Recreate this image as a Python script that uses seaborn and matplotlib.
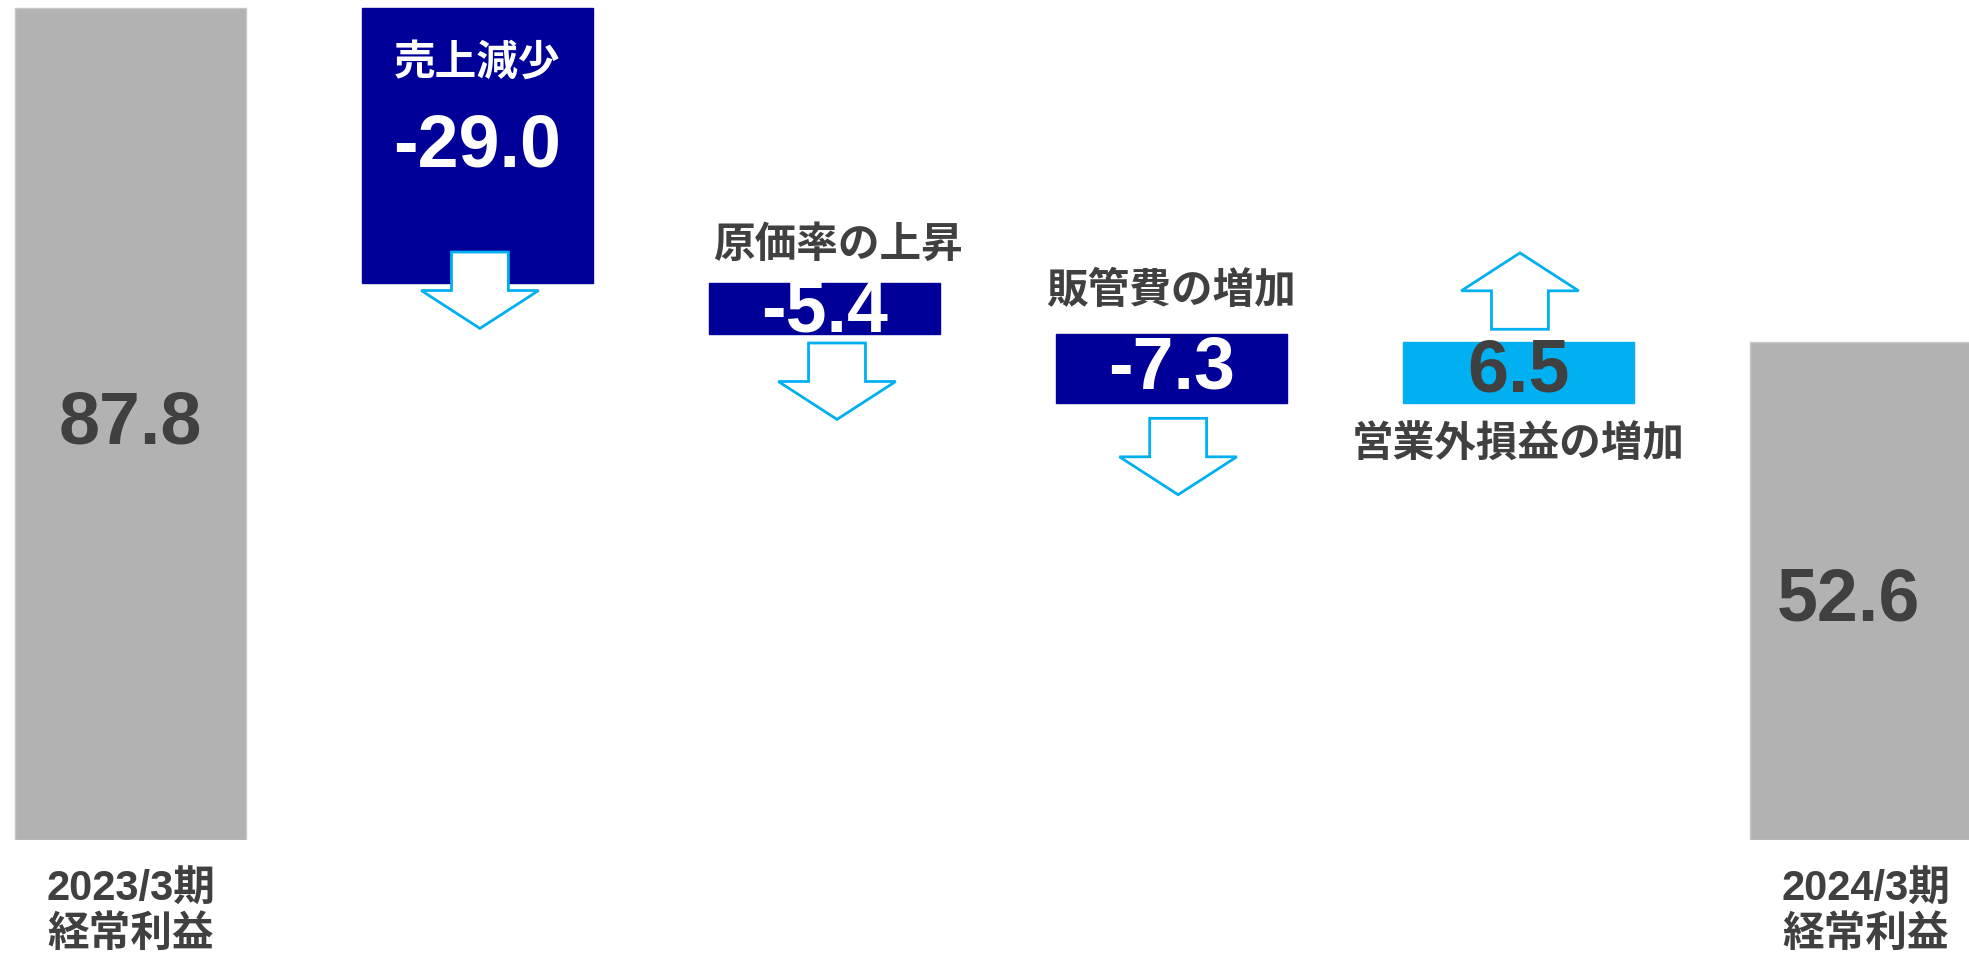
import numpy as np
import pandas as pd
import matplotlib
matplotlib.use("Agg")
import matplotlib.pyplot as plt
from matplotlib.patches import Polygon
import seaborn as sns

# ---- data -------------------------------------------------------------
items = ["2023/3期\n経常利益", "売上減少", "原価率の上昇", "販管費の増加",
         "営業外損益の増加", "2024/3期\n経常利益"]
start_value = 87.8
changes = [-29.0, -5.4, -7.3, 6.5]
end_value = 52.6
change_labels = ["売上減少", "原価率の上昇", "販管費の増加", "営業外損益の増加"]

# ---- waterfall geometry ------------------------------------------------
levels = np.concatenate([[start_value], start_value + np.cumsum(changes)])
heights = [start_value] + [abs(c) for c in changes] + [end_value]
bottoms = [0.0] + [min(levels[i], levels[i + 1]) for i in range(len(changes))] + [0.0]
df = pd.DataFrame({"item": items, "height": heights, "bottom": bottoms})

GRAY = "#B2B2B2"
NAVY = "#000099"
SKY = "#00B0F0"
DARK = "#404040"
colors = [GRAY] + [NAVY if c < 0 else SKY for c in changes] + [GRAY]

sns.set_style("white")
plt.rcParams["font.family"] = ["Liberation Sans", "Noto Sans CJK JP"]
num_font = ["Liberation Sans", "Noto Sans CJK JP"]
jp_font = ["Noto Sans CJK JP", "Liberation Sans"]

fig = plt.figure(figsize=(19.69, 9.55), dpi=100)
ax = fig.add_axes([0, 115 / 955, 1, 840 / 955])

sns.barplot(data=df, x="item", y="height", order=items, bottom=df["bottom"].values,
            color=GRAY, width=0.666, errorbar=None, ax=ax, saturation=1)
for patch, c in zip(ax.patches, colors):
    patch.set_facecolor(c)
    patch.set_edgecolor("#C8C8C8" if c == GRAY else c)
    patch.set_linewidth(1.0)

ax.set_xlim(-0.376, 5.298)
ax.set_ylim(0, 88.65)
for s in ax.spines.values():
    s.set_visible(False)
ax.set_yticks([])
ax.set_xticks([0, 5])
ax.set_xticklabels([items[0], items[-1]], fontsize=30, fontweight="bold",
                   color=DARK, linespacing=1.2)
ax.tick_params(axis="x", length=0, pad=21)
ax.set_xlabel("")
ax.set_ylabel("")

# ---- totals -------------------------------------------------------------
ax.text(0, start_value / 2, f"{start_value:.1f}", ha="center", va="center",
        fontsize=53, fontweight="bold", color=DARK, family=num_font)
ax.text(5 - 0.05, end_value / 2 - 1.1, f"{end_value:.1f}", ha="center", va="center",
        fontsize=53, fontweight="bold", color=DARK, family=num_font)

# ---- change values and captions -------------------------------------------
def val_text(x, y, v, color):
    ax.text(x, y, f"{v:.1f}", ha="center", va="center", fontsize=53,
            fontweight="bold", color=color, family=num_font, zorder=5)

def cap_text(x, y, s, color):
    ax.text(x, y, s, ha="center", va="center", fontsize=30,
            fontweight="bold", color=color, family=jp_font, zorder=5)

cap_text(1, 82.0, change_labels[0], "white")
val_text(1, 73.1, changes[0], "white")
cap_text(2.04, 62.8, change_labels[1], DARK)
val_text(2.0, 55.7, changes[1], "white")
cap_text(3.0, 57.9, change_labels[2], DARK)
val_text(3.0, (levels[2] + levels[3]) / 2, changes[2], "white")
val_text(4.0, (levels[3] + levels[4]) / 2, changes[3], DARK)
cap_text(4.0, 41.7, change_labels[3], DARK)

# ---- direction arrows -------------------------------------------------
def block_arrow(cx, y0, direction):
    a, b = 0.082, 0.169      # shaft / head half widths
    s, h = 4.06, 4.0         # shaft / head lengths
    d = -1 if direction == "down" else 1
    pts = [(cx - a, y0), (cx + a, y0), (cx + a, y0 + d * s), (cx + b, y0 + d * s),
           (cx, y0 + d * (s + h)), (cx - b, y0 + d * s), (cx - a, y0 + d * s)]
    ax.add_patch(Polygon(pts, closed=True, facecolor="white", edgecolor=SKY,
                         linewidth=2.0, zorder=4, joinstyle="miter"))

block_arrow(1.007, 62.05, "down")
block_arrow(2.036, 52.45, "down")
block_arrow(3.019, 44.5, "down")
block_arrow(4.004, 53.9, "up")

fig.savefig("out.png", dpi=100)
